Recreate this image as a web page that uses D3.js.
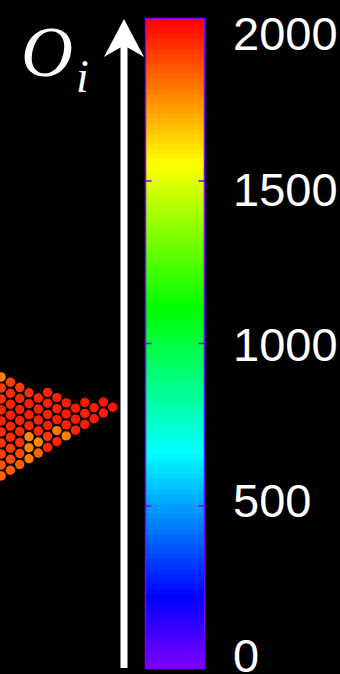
<!DOCTYPE html>
<html>
<head>
<meta charset="utf-8">
<script src="https://cdn.jsdelivr.net/npm/d3@7"></script>
<style>
  html, body { margin: 0; padding: 0; background: #000; overflow: hidden; }
</style>
</head>
<body>
<div id="chart"></div>
<script>
// colour bar
const cbDomain = [0, 2000];
const cbTicks = [500, 1000, 1500];
const cbLabels = [0, 500, 1000, 1500, 2000];

// particle cluster, one lattice column per entry, counted from the tip leftwards
const colTop = [0, -1, 0, -1, 0, -1, -2, -3, -2, -3, -4, -5, -6]; // first half-row of each column
const colValues = [
  [1965],
  [1960, 1950],
  [1950, 1955],
  [1960, 1945, 1950],
  [1955, 1950, 1940],
  [1950, 1955, 1945, 1780],
  [1950, 1945, 1955, 1790, 1935],
  [1945, 1950, 1940, 1955, 1900, 1935],
  [1940, 1950, 1945, 1930, 1770, 1830],
  [1930, 1945, 1950, 1940, 1760, 1770, 1790],
  [1900, 1940, 1950, 1945, 1930, 1920, 1880, 1840],
  [1890, 1930, 1940, 1950, 1935, 1920, 1900, 1870, 1840],
  [1780, 1900, 1920, 1935, 1940, 1925, 1910, 1880, 1860, 1830]
];

const W = 340, H = 674;
const edge = "#7a00ff";

const svg = d3.select("#chart")
  .append("svg")
    .attr("width", W)
    .attr("height", H)
    .style("background", "#000");

const hue = d3.scaleLinear().domain(cbDomain).range([270, 0]);
const colour = v => d3.hsl(hue(v), 1, 0.5).toString();

// colour bar
const y = d3.scaleLinear().domain(cbDomain).range([668.5, 18.5]);
const yLab = d3.scaleLinear().domain(cbDomain).range([672, 50]);
const barX = 145.5, barW = 59;

const nBands = 130;
const bands = d3.range(nBands).map(i => cbDomain[0] + (cbDomain[1] - cbDomain[0]) * i / nBands);
const bandH = (cbDomain[1] - cbDomain[0]) / nBands;

svg.append("g")
  .selectAll("rect")
  .data(bands)
  .join("rect")
    .attr("x", barX)
    .attr("y", d => y(d + bandH))
    .attr("width", barW)
    .attr("height", d => y(d) - y(d + bandH) + 0.6)
    .attr("fill", d => colour(d + bandH / 2));

svg.append("rect")
  .attr("x", barX)
  .attr("y", y(cbDomain[1]))
  .attr("width", barW)
  .attr("height", y(cbDomain[0]) - y(cbDomain[1]))
  .attr("fill", "none")
  .attr("stroke", edge)
  .attr("stroke-width", 1.5);

const tk = svg.append("g");
cbTicks.forEach(t => {
  tk.append("line")
    .attr("x1", barX).attr("x2", barX + 6)
    .attr("y1", y(t)).attr("y2", y(t))
    .attr("stroke", edge).attr("stroke-width", 1.5);
  tk.append("line")
    .attr("x1", barX + barW - 6).attr("x2", barX + barW)
    .attr("y1", y(t)).attr("y2", y(t))
    .attr("stroke", edge).attr("stroke-width", 1.5);
});

svg.append("g")
  .selectAll("text")
  .data(cbLabels)
  .join("text")
    .attr("x", 233)
    .attr("y", d => yLab(d))
    .attr("fill", "#fff")
    .style("font-family", "'Liberation Sans', Arial, sans-serif")
    .style("font-size", "47px")
    .text(d => d);

// arrow
svg.append("rect")
  .attr("x", 120.5).attr("y", 45)
  .attr("width", 7).attr("height", 668 - 45)
  .attr("fill", "#fff");
svg.append("path")
  .attr("d", "M124,19 L144,57 Q131,49 124,46 Q117,49 104,57 Z")
  .attr("fill", "#fff");

// label O_i
const lab = svg.append("text")
  .attr("fill", "#fff")
  .style("font-family", "'Liberation Serif', 'Times New Roman', serif")
  .style("font-style", "italic");
lab.append("tspan")
  .attr("x", 21).attr("y", 76)
  .style("font-size", "72px")
  .text("O");
lab.append("tspan")
  .attr("x", 76).attr("y", 92)
  .style("font-size", "46px")
  .text("i");

// particle cluster
const px = d3.scaleLinear().domain([0, 12]).range([112.7, 1.1]);
const py = d3.scaleLinear().domain([0, 12]).range([407.3, 473.3]);

const dots = [];
colValues.forEach((col, k) => {
  col.forEach((v, j) => {
    const n = colTop[k] + 2 * j;
    dots.push({k: k, n: n, v: v});
  });
});

svg.append("g")
  .selectAll("circle")
  .data(dots)
  .join("circle")
    .attr("cx", d => px(d.k))
    .attr("cy", d => py(d.n + 0.04 * d.k))
    .attr("r", 4.7)
    .attr("fill", d => colour(d.v));
</script>
</body>
</html>
